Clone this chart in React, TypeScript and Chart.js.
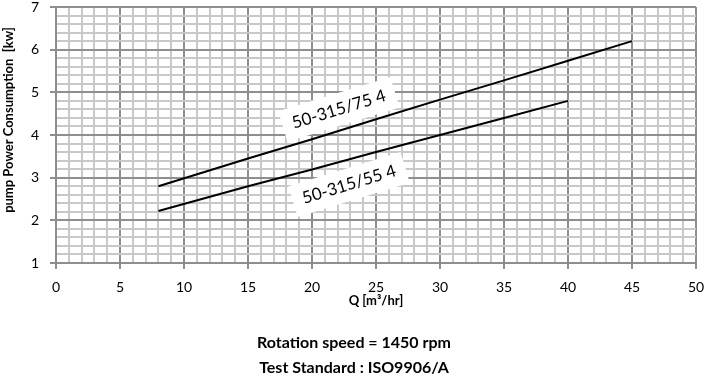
import React, { useEffect, useRef } from 'react';
import { Chart, registerables } from 'chart.js';

Chart.register(...registerables);

// ---- data ----
const seriesNames = ['50-315/75 4', '50-315/55 4'];
const flow75 = [8, 15, 20, 25, 30, 35, 40, 45];
const power75 = [2.8, 3.45, 3.9, 4.37, 4.83, 5.28, 5.74, 6.2];
const flow55 = [8, 15, 20, 25, 30, 35, 40];
const power55 = [2.22, 2.8, 3.19, 3.6, 4.0, 4.4, 4.8];
const labelAnchorX = [22.1, 22.9];
const labelAnchorY = [4.6, 2.84];
const xTickLabels = [0, 5, 10, 15, 20, 25, 30, 35, 40, 45, 50];
const yTickLabels = [1, 2, 3, 4, 5, 6, 7];
const xTitle = 'Q [m³/hr]';
const yTitle = 'pump Power Consumption  [kw]';
const captionLines = ['Rotation speed = 1450 rpm', 'Test Standard : ISO9906/A'];

const FONT = 'Lato, "Open Sans", sans-serif';
const MAJOR = '#8e8e8e';
const MINOR = '#c8c8c8';

const isMajorX = (v: number) => xTickLabels.some((t) => Math.abs(t - v) < 1e-6);
const isMajorY = (v: number) => yTickLabels.some((t) => Math.abs(t - v) < 1e-6);

const lineLabels = {
  id: 'lineLabels',
  afterDatasetsDraw(chart: any) {
    const { ctx, scales } = chart;
    const x = scales.x;
    const y = scales.y;
    ctx.save();
    ctx.font = `17px ${FONT}`;
    seriesNames.forEach((name, i) => {
      const px = x.getPixelForValue(labelAnchorX[i]);
      const py = y.getPixelForValue(labelAnchorY[i]);
      ctx.save();
      ctx.translate(px, py);
      ctx.rotate((-17 * Math.PI) / 180);
      const w = ctx.measureText(name).width;
      const padX = 10;
      const h = 32;
      ctx.fillStyle = '#ffffff';
      ctx.fillRect(-w / 2 - padX, -h / 2, w + 2 * padX, h);
      ctx.fillStyle = '#000000';
      ctx.textAlign = 'center';
      ctx.textBaseline = 'middle';
      ctx.fillText(name, 0, 0);
      ctx.restore();
    });
    ctx.restore();
  },
};

const textBlocks = {
  id: 'textBlocks',
  afterDraw(chart: any) {
    const { ctx, width } = chart;
    ctx.save();
    ctx.fillStyle = '#000000';
    ctx.textAlign = 'center';
    ctx.textBaseline = 'middle';
    ctx.font = `bold 16px ${FONT}`;
    captionLines.forEach((t, i) => {
      ctx.fillText(t, width / 2, 343 + i * 25);
    });
    // y-axis title
    ctx.save();
    ctx.translate(9, 120);
    ctx.rotate(-Math.PI / 2);
    ctx.font = `bold 13px ${FONT}`;
    ctx.fillText(yTitle, 0, 0);
    ctx.restore();
    ctx.restore();
  },
};

export default function App() {
  const ref = useRef<HTMLCanvasElement | null>(null);

  useEffect(() => {
    if (!ref.current) return;
    const chart = new Chart(ref.current, {
      type: 'line',
      data: {
        datasets: [
          {
            label: seriesNames[0],
            data: flow75.map((q, i) => ({ x: q, y: power75[i] })),
            borderColor: '#000000',
            borderWidth: 2,
            pointRadius: 0,
            fill: false,
            tension: 0,
          },
          {
            label: seriesNames[1],
            data: flow55.map((q, i) => ({ x: q, y: power55[i] })),
            borderColor: '#000000',
            borderWidth: 2,
            pointRadius: 0,
            fill: false,
            tension: 0,
          },
        ],
      },
      options: {
        animation: false,
        responsive: false,
        devicePixelRatio: 1,
        layout: { padding: { left: 0, right: 12, top: 7, bottom: 73 } },
        plugins: {
          legend: { display: false },
          tooltip: { enabled: false },
          title: { display: false },
        },
        scales: {
          x: {
            type: 'linear',
            min: 0,
            max: 50,
            afterFit: (s: any) => {
              s.height = 48;
              s.paddingLeft = 0;
              s.paddingRight = 0;
            },
            ticks: {
              stepSize: 1,
              autoSkip: false,
              maxRotation: 0,
              color: '#000000',
              font: { family: FONT, size: 14 },
              padding: 10,
              callback: (v: any) => (isMajorX(Number(v)) ? String(Math.round(Number(v))) : ''),
            },
            grid: {
              color: (c: any) => (c.tick && isMajorX(c.tick.value) ? MAJOR : MINOR),
              lineWidth: 2,
              tickColor: (c: any) => (c.tick && isMajorX(c.tick.value) ? MAJOR : 'rgba(0,0,0,0)'),
              tickLength: 6,
            },
            border: { color: MAJOR, width: 2 },
            title: {
              display: true,
              text: xTitle,
              color: '#000000',
              font: { family: FONT, size: 13, weight: 'bold' },
              padding: { top: 0, bottom: 2 },
            },
          },
          y: {
            type: 'linear',
            min: 1,
            max: 7,
            afterFit: (s: any) => {
              s.width = 56;
              s.paddingTop = 0;
              s.paddingBottom = 0;
            },
            ticks: {
              stepSize: 0.2,
              autoSkip: false,
              color: '#000000',
              font: { family: FONT, size: 14 },
              padding: 11,
              callback: (v: any) => (isMajorY(Number(v)) ? String(Math.round(Number(v))) : ''),
            },
            grid: {
              color: (c: any) => (c.tick && isMajorY(c.tick.value) ? MAJOR : MINOR),
              lineWidth: 2,
              tickColor: (c: any) => (c.tick && isMajorY(c.tick.value) ? MAJOR : 'rgba(0,0,0,0)'),
              tickLength: 6,
            },
            border: { color: MAJOR, width: 2 },
            title: { display: false },
          },
        },
      },
      plugins: [lineLabels, textBlocks],
    } as any);
    return () => chart.destroy();
  }, []);

  return (
    <div style={{ position: 'fixed', left: 0, top: 0, width: 708, height: 384, background: '#fff' }}>
      <canvas ref={ref} width={708} height={384} />
    </div>
  );
}
